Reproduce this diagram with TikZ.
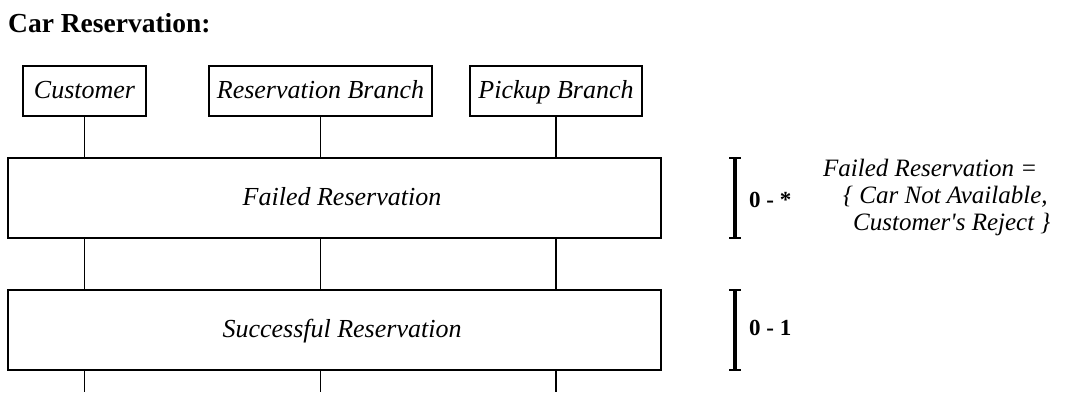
\documentclass[tikz,border=0pt]{standalone}
\usepackage{fontspec}
\setmainfont{Liberation Serif}
\begin{document}
\begin{tikzpicture}[x=1pt,y=-1pt,
  box/.style={draw,line width=1.2pt,inner sep=0pt,text height=19.5pt,text depth=5pt,font=\fontsize{26}{30}\selectfont\itshape},
  life/.style={line width=1.2pt},
  brk/.style={line width=3.5pt},
  brkcap/.style={line width=2pt},
  mult/.style={anchor=west,inner sep=0pt,font=\fontsize{23}{27}\selectfont\bfseries},
  note/.style={anchor=base west,inner sep=0pt,font=\fontsize{25}{29}\selectfont\itshape}]
\useasboundingbox (0,0) rectangle (1070,392);
\node[anchor=base west,inner sep=0pt,font=\fontsize{27.5}{32}\selectfont\bfseries] (title) at (8,32) {Car Reservation:};
\node[box,minimum width=123pt,minimum height=50pt] (cust) at (84.5,91) {Customer};
\node[box,minimum width=223pt,minimum height=50pt] (resv) at (320.5,91) {Reservation Branch};
\node[box,minimum width=172pt,minimum height=50pt] (pick) at (556,91) {Pickup Branch};
\node[box,minimum width=653pt,minimum height=80pt] (failed) at (334.5,198) {\hspace*{15pt}Failed Reservation};
\node[box,minimum width=653pt,minimum height=80pt] (succ) at (334.5,330) {\hspace*{15pt}Successful Reservation};
\coordinate (bot) at (0,392);
\foreach \n in {cust,resv,pick}{
  \draw[life] (\n.south) -- (\n |- failed.north);
  \draw[life] (\n |- failed.south) -- (\n |- succ.north);
  \draw[life] (\n |- succ.south) -- (\n |- bot);
}
% multiplicity brackets
\coordinate (bx) at (735,0);
\draw[brk] (bx |- failed.north) -- (bx |- failed.south);
\draw[brkcap] ([xshift=-6pt,yshift=-1pt]bx |- failed.north) -- ([xshift=6pt,yshift=-1pt]bx |- failed.north);
\draw[brkcap] ([xshift=-6pt,yshift=1pt]bx |- failed.south) -- ([xshift=6pt,yshift=1pt]bx |- failed.south);
\draw[brk] (bx |- succ.north) -- (bx |- succ.south);
\draw[brkcap] ([xshift=-6pt,yshift=-1pt]bx |- succ.north) -- ([xshift=6pt,yshift=-1pt]bx |- succ.north);
\draw[brkcap] ([xshift=-6pt,yshift=1pt]bx |- succ.south) -- ([xshift=6pt,yshift=1pt]bx |- succ.south);
\node[mult] (m1) at (749,200) {0 - *};
\node[mult] (m2) at (749,328) {0 - 1};
\node[note] (n1) at (823,176) {Failed Reservation =};
\node[note] (n2) at (843,203) {\{ Car Not Available,};
\node[note] (n3) at (853,230) {Customer\textquotesingle s Reject \}};
\end{tikzpicture}
\end{document}
